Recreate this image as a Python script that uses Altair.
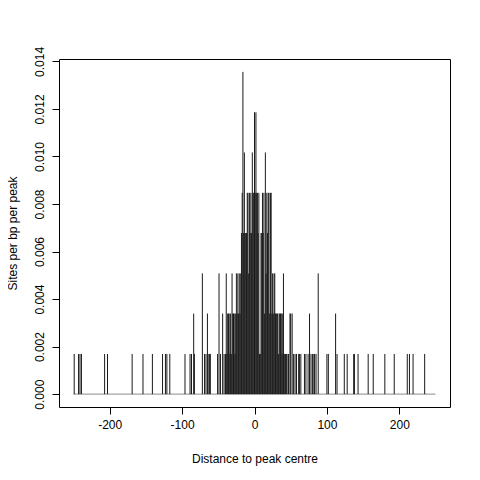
import altair as alt
import pandas as pd

# distance to peak centre (bp) and density
positions = [
    -249, -243, -241, -239, -207, -203, -169, -154, -141, -127, -123, -121, -117, -96,
    -89, -87, -84, -83, -72, -69, -67, -65, -64, -62, -61, -51, -49, -47, -44, -42,
    -40, -39, -38, -37, -36, -35, -34, -33, -32, -31, -30, -29, -28, -27, -26, -25,
    -24, -23, -22, -21, -20, -19, -18, -17, -16, -15, -14, -13, -12, -11, -10, -9,
    -8, -7, -6, -5, -4, -3, -2, -1, 0, 1, 2, 3, 4, 5, 6, 7, 8, 9, 10, 11, 12, 13,
    14, 15, 16, 17, 18, 19, 20, 21, 22, 23, 24, 25, 26, 27, 28, 29, 30, 31, 32, 33,
    34, 35, 36, 37, 38, 39, 40, 41, 42, 43, 44, 45, 47, 49, 50, 52, 54, 56, 58, 61,
    62, 64, 69, 71, 74, 76, 78, 80, 82, 83, 85, 88,
    100, 102, 112, 114, 124, 128, 137, 138, 143, 157, 164, 180, 193, 211, 214, 219, 235,
]
values = [
    0.00169, 0.00169, 0.00169, 0.00169, 0.00169, 0.00169, 0.00169, 0.00169, 0.00169, 0.00169, 0.00169, 0.00169, 0.00169, 0.00169,
    0.00169, 0.00169, 0.00339, 0.00169, 0.00508, 0.00169, 0.00169, 0.00339, 0.00169, 0.00169, 0.00169, 0.00169, 0.00508, 0.00169, 0.00339, 0.00169,
    0.00169, 0.00508, 0.00169, 0.00339, 0.00339, 0.00339, 0.00169, 0.00339, 0.00169, 0.00508, 0.00339, 0.00339, 0.00339, 0.00169, 0.00339, 0.00508,
    0.00339, 0.00508, 0.00339, 0.00508, 0.00339, 0.00508, 0.00678, 0.00847, 0.01356, 0.00678, 0.01017, 0.00678, 0.00678, 0.00678, 0.00847, 0.00847,
    0.00508, 0.00847, 0.00678, 0.00847, 0.00678, 0.01017, 0.00847, 0.00847, 0.01186, 0.00847, 0.01186, 0.00847, 0.00847, 0.00678, 0.00847, 0.00169, 0.00169, 0.00678, 0.00678, 0.00847, 0.00678, 0.00847,
    0.00339, 0.01017, 0.00508, 0.00847, 0.00678, 0.00847, 0.00847, 0.00339, 0.00847, 0.00847, 0.00339, 0.00508, 0.00339, 0.00508, 0.00508, 0.00339, 0.00339, 0.00339, 0.00339, 0.00169,
    0.00339, 0.00339, 0.00339, 0.00339, 0.00169, 0.00339, 0.00508, 0.00169, 0.00169, 0.00169, 0.00169, 0.00169, 0.00169, 0.00339, 0.00339, 0.00339, 0.00169, 0.00169, 0.00169, 0.00169,
    0.00169, 0.00169, 0.00169, 0.00169, 0.00169, 0.00339, 0.00169, 0.00169, 0.00169, 0.00169, 0.00169, 0.00508,
    0.00169, 0.00169, 0.00339, 0.00169, 0.00169, 0.00169, 0.00169, 0.00169, 0.00169, 0.00169, 0.00169, 0.00169, 0.00169, 0.00169, 0.00169, 0.00169, 0.00169,
]
x_ticks = [-200, -100, 0, 100, 200]
y_ticks = [0.0, 0.002, 0.004, 0.006, 0.008, 0.010, 0.012, 0.014]
x_extent = [-250, 250]

df = pd.DataFrame({"pos": positions, "val": values})
base_df = pd.DataFrame({"x": [x_extent[0]], "x2": [x_extent[1]], "y": [0.0]})

FONT = "Liberation Sans"

xscale = alt.Scale(domain=[-270, 270], nice=False, zero=False)
yscale = alt.Scale(domain=[-0.000542, 0.014102], nice=False, zero=False)

xaxis = alt.Axis(
    values=x_ticks, labelExpr="'' + datum.value", tickSize=7, tickColor="black",
    labelPadding=5, labelFontSize=12, labelFont=FONT, labelColor="black",
    domain=False, grid=False, labelFlush=False, labelOverlap=False,
    title="Distance to peak centre", titleFont=FONT, titleFontSize=12,
    titleFontWeight="normal", titleColor="black",
    titleX=195.5, titleY=51, titleAlign="center", titleBaseline="middle",
)
yaxis = alt.Axis(
    values=y_ticks, labelExpr="format(datum.value, '.3f')", tickSize=7, tickColor="black",
    labelAngle=270, labelAlign="center", labelBaseline="bottom", labelPadding=6,
    labelFontSize=12, labelFont=FONT, labelColor="black",
    domain=False, grid=False, labelFlush=False, labelOverlap=False,
    title="Sites per bp per peak", titleFont=FONT, titleFontSize=12,
    titleFontWeight="normal", titleColor="black",
    titleX=-47, titleY=174, titleAlign="center", titleBaseline="middle", titleAngle=270,
)

baseline = alt.Chart(base_df).mark_rule(color="#8c8c8c", strokeWidth=1).encode(
    x=alt.X("x:Q", scale=xscale, axis=xaxis),
    x2="x2:Q",
    y=alt.Y("y:Q", scale=yscale, axis=yaxis),
)

spikes = alt.Chart(df).mark_rule(color="#1a1a1a", strokeWidth=1).encode(
    x=alt.X("pos:Q", scale=xscale, axis=xaxis),
    y=alt.Y("val:Q", scale=yscale, axis=yaxis),
    y2=alt.datum(0),
)

chart = (
    alt.layer(baseline, spikes)
    .properties(
        width=391, height=348,
        autosize=alt.AutoSizeParams(type="none"),
        padding={"left": 51, "top": 51, "right": 21, "bottom": 65},
        background="white",
    )
    .configure_view(stroke="black", strokeWidth=1)
)

chart.save("out.html", embed_options={"renderer": "svg", "actions": False})
